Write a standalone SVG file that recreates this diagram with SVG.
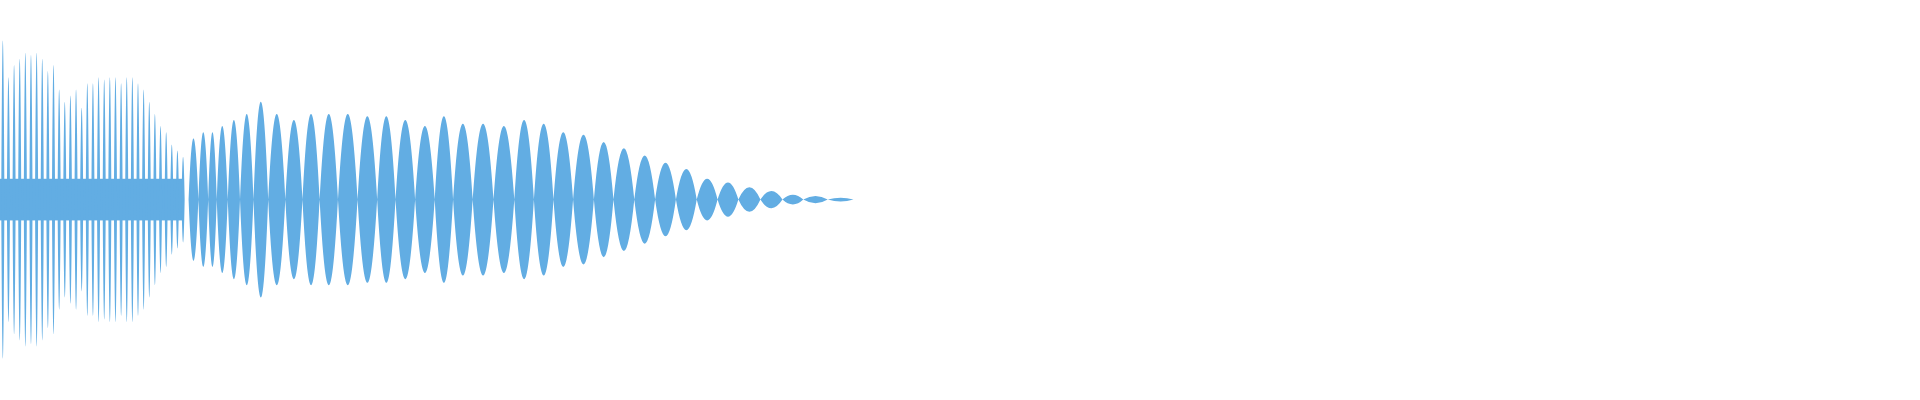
<svg xmlns="http://www.w3.org/2000/svg" width="1920" height="400" viewBox="0 0 1920 400">
<style>.w{fill:#62ade3}</style>
<rect width="1920" height="400" fill="#fff"/>
<g id="waveform" transform="scale(1.2245)">
<rect class="w" x="0" y="146" width="150" height="34"/>
<path class="w" d="M1 163q1.3 -260 2.6 0q-1.3 260 -2.6 0zM5.6 163q1.3 -200 2.6 0q-1.3 200 -2.6 0zM10.2 163q1.3 -220 2.6 0q-1.3 220 -2.6 0zM14.8 163q1.3 -230 2.6 0q-1.3 230 -2.6 0zM19.4 163q1.3 -240 2.6 0q-1.3 240 -2.6 0zM24 163q1.3 -236 2.6 0q-1.3 236 -2.6 0zM28.6 163q1.3 -240 2.6 0q-1.3 240 -2.6 0zM33.2 163q1.3 -230 2.6 0q-1.3 230 -2.6 0zM37.8 163q1.3 -210 2.6 0q-1.3 210 -2.6 0zM42.4 163q1.3 -220 2.6 0q-1.3 220 -2.6 0zM47 163q1.3 -180 2.6 0q-1.3 180 -2.6 0zM51.6 163q1.3 -160 2.6 0q-1.3 160 -2.6 0zM56.2 163q1.3 -170 2.6 0q-1.3 170 -2.6 0zM60.8 163q1.3 -180 2.6 0q-1.3 180 -2.6 0zM65.4 163q1.3 -150 2.6 0q-1.3 150 -2.6 0zM70 163q1.3 -190 2.6 0q-1.3 190 -2.6 0zM74.6 163q1.3 -190 2.6 0q-1.3 190 -2.6 0zM79.2 163q1.3 -200 2.6 0q-1.3 200 -2.6 0zM83.8 163q1.3 -196 2.6 0q-1.3 196 -2.6 0zM88.4 163q1.3 -200 2.6 0q-1.3 200 -2.6 0zM93 163q1.3 -200 2.6 0q-1.3 200 -2.6 0zM97.6 163q1.3 -190 2.6 0q-1.3 190 -2.6 0zM102.2 163q1.3 -200 2.6 0q-1.3 200 -2.6 0zM106.8 163q1.3 -200 2.6 0q-1.3 200 -2.6 0zM111.4 163q1.3 -190 2.6 0q-1.3 190 -2.6 0zM116 163q1.3 -180 2.6 0q-1.3 180 -2.6 0zM120.6 163q1.3 -160 2.6 0q-1.3 160 -2.6 0zM125.2 163q1.3 -140 2.6 0q-1.3 140 -2.6 0zM129.8 163q1.3 -120 2.6 0q-1.3 120 -2.6 0zM134.4 163q1.3 -110 2.6 0q-1.3 110 -2.6 0zM139 163q1.3 -90 2.6 0q-1.3 90 -2.6 0zM143.6 163q1.3 -80 2.6 0q-1.3 80 -2.6 0zM148.2 163q1.3 -70 2.6 0q-1.3 70 -2.6 0z"/>
<path class="w" d="M154 163q4 -100 8 0q-4 100 -8 0zM162 163q4 -110 8 0q-4 110 -8 0zM170 163q3.5 -110 7 0q-3.5 110 -7 0zM177 163q4.5 -120 9 0q-4.5 120 -9 0zM186 163q5 -130 10 0q-5 130 -10 0zM196 163q5.5 -140 11 0q-5.5 140 -11 0zM207 163q6 -160 12 0q-6 160 -12 0zM219 163q7 -140 14 0q-7 140 -14 0zM233 163q7 -130 14 0q-7 130 -14 0zM247 163q7 -140 14 0q-7 140 -14 0zM261 163q7.5 -140 15 0q-7.5 140 -15 0zM276 163q8 -140 16 0q-8 140 -16 0zM292 163q8 -136 16 0q-8 136 -16 0zM308 163q7.5 -136 15 0q-7.5 136 -15 0zM323 163q8 -130 16 0q-8 130 -16 0zM339 163q8 -120 16 0q-8 120 -16 0zM355 163q7.5 -136 15 0q-7.5 136 -15 0zM370 163q8 -124 16 0q-8 124 -16 0zM386 163q8.5 -124 17 0q-8.5 124 -17 0zM403 163q8.5 -120 17 0q-8.5 120 -17 0zM420 163q8 -130 16 0q-8 130 -16 0zM436 163q8 -124 16 0q-8 124 -16 0zM452 163q8 -110 16 0q-8 110 -16 0zM468 163q8.5 -106 17 0q-8.5 106 -17 0zM485 163q8 -94 16 0q-8 94 -16 0zM501 163q8.5 -84 17 0q-8.5 84 -17 0zM518 163q8.5 -72 17 0q-8.5 72 -17 0zM535 163q8.5 -60 17 0q-8.5 60 -17 0zM552 163q8.5 -50 17 0q-8.5 50 -17 0zM569 163q8.5 -34 17 0q-8.5 34 -17 0zM586 163q8.5 -28 17 0q-8.5 28 -17 0zM603 163q9 -20 18 0q-9 20 -18 0zM621 163q9 -14 18 0q-9 14 -18 0zM639 163q8.5 -8 17 0q-8.5 8 -17 0zM656 163q10 -6 20 0q-10 6 -20 0zM676 163q10.5 -3 21 0q-10.5 3 -21 0z"/>
</g>
<g id="connectors"/>
</svg>
